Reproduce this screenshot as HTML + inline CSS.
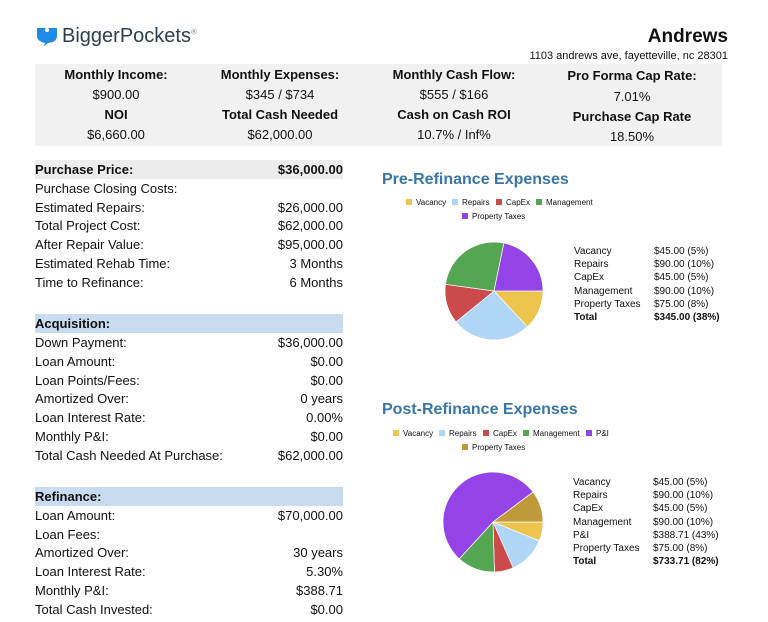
<!DOCTYPE html>
<html><head><meta charset="utf-8"><style>
body{margin:0;width:768px;height:622px;background:#fff;font-family:"Liberation Sans",Arial,sans-serif;color:#111;position:relative;overflow:hidden}
.a{position:absolute;white-space:nowrap}
.hdr{position:absolute;left:35px;top:64px;width:687px;height:82px;background:#f1f1f1}
.c{position:absolute;text-align:center;width:172px;font-size:13px}
.row{position:absolute;left:35px;width:308px;height:19px;font-size:13px;line-height:19px}
.row .v{position:absolute;right:0;top:0}
.lg{font-size:8px;position:absolute;white-space:nowrap}
.sw{display:inline-block;width:6px;height:6px;margin-right:4px;vertical-align:-0px}
.tb{position:absolute;font-size:10px;line-height:13px}
</style></head><body>
<div class="a" style="left:36px;top:24px;font-size:20px;color:#2d3e50">
<svg width="22" height="22" viewBox="0 0 22 22" style="vertical-align:-4px;margin-right:4px"><path d="M1 4 L21 4 L21 12 Q21 18 12 19 L8 22 L9 19 Q1 17 1 12 Z" fill="#1e8be8"/><circle cx="11" cy="6" r="2" fill="#fff"/></svg>BiggerPockets<sup style="font-size:8px;color:#888">®</sup></div>
<div class="a" style="right:40px;top:26px;font-size:19px;font-weight:bold">Andrews</div>
<div class="a" style="right:40px;top:50px;font-size:11px">1103 andrews ave, fayetteville, nc 28301</div>
<div class="hdr"></div>
<div class="c" style="left:30px;top:67px;font-weight:bold">Monthly Income:</div>
<div class="c" style="left:30px;top:87px">$900.00</div>
<div class="c" style="left:30px;top:107px;font-weight:bold">NOI</div>
<div class="c" style="left:30px;top:127px">$6,660.00</div>
<div class="c" style="left:194px;top:67px;font-weight:bold">Monthly Expenses:</div>
<div class="c" style="left:194px;top:87px">$345 / $734</div>
<div class="c" style="left:194px;top:107px;font-weight:bold">Total Cash Needed</div>
<div class="c" style="left:194px;top:127px">$62,000.00</div>
<div class="c" style="left:368px;top:67px;font-weight:bold">Monthly Cash Flow:</div>
<div class="c" style="left:368px;top:87px">$555 / $166</div>
<div class="c" style="left:368px;top:107px;font-weight:bold">Cash on Cash ROI</div>
<div class="c" style="left:368px;top:127px">10.7% / Inf%</div>
<div class="c" style="left:546px;top:68px;font-weight:bold">Pro Forma Cap Rate:</div>
<div class="c" style="left:546px;top:89px">7.01%</div>
<div class="c" style="left:546px;top:109px;font-weight:bold">Purchase Cap Rate</div>
<div class="c" style="left:546px;top:129px">18.50%</div>

<div id="left"></div>

<div class="a" style="left:382px;top:171px;font-size:16px;font-weight:bold;color:#3a76a8">Pre-Refinance Expenses</div>
<div class="a" style="left:382px;top:401px;font-size:16px;font-weight:bold;color:#3a76a8">Post-Refinance Expenses</div>
<svg id="pies" width="768" height="622" style="position:absolute;left:0;top:0"></svg>
<div id="extra"></div>
<script>
const leftRows=[
["Purchase Price:","$36,000.00","g"],["Purchase Closing Costs:",""],["Estimated Repairs:","$26,000.00"],["Total Project Cost:","$62,000.00"],["After Repair Value:","$95,000.00"],["Estimated Rehab Time:","3 Months"],["Time to Refinance:","6 Months"],
null,["Acquisition:","","b"],["Down Payment:","$36,000.00"],["Loan Amount:","$0.00"],["Loan Points/Fees:","$0.00"],["Amortized Over:","0 years"],["Loan Interest Rate:","0.00%"],["Monthly P&I:","$0.00"],["Total Cash Needed At Purchase:","$62,000.00"],
null,["Refinance:","","b"],["Loan Amount:","$70,000.00"],["Loan Fees:",""],["Amortized Over:","30 years"],["Loan Interest Rate:","5.30%"],["Monthly P&I:","$388.71"],["Total Cash Invested:","$0.00"]];
const L=document.getElementById('left');
let y=160;
leftRows.forEach((r,i)=>{
 if(!r){y+=22.5;return;}
 const d=document.createElement('div');d.className='row';d.style.top=y+'px';
 
 
 if(r[2]){d.style.fontWeight='bold';d.style.background=r[2]=='g'?'#ececec':'#c9dbee';}
 d.innerHTML='<span>'+r[0].replace('&','&amp;')+'</span><span class="v">'+r[1]+'</span>';
 L.appendChild(d);y+=18.8;
});
const preLabels=["Vacancy","Repairs","CapEx","Management","Property Taxes"];
const preValues=[45,90,45,90,75];
const preText=["$45.00 (5%)","$90.00 (10%)","$45.00 (5%)","$90.00 (10%)","$75.00 (8%)"];
const postLabels=["Vacancy","Repairs","CapEx","Management","P&I","Property Taxes"];
const postValues=[45,90,45,90,388.71,75];
const postText=["$45.00 (5%)","$90.00 (10%)","$45.00 (5%)","$90.00 (10%)","$388.71 (43%)","$75.00 (8%)"];
const preColors=["#ecc44e","#b0d6f6","#cb4a4c","#55a653","#9443e6"];
const postColors=["#ecc44e","#b0d6f6","#cb4a4c","#55a653","#9443e6","#bf9a3a"];
const S=document.getElementById('pies'),E=document.getElementById('extra');
function pie(vals,cols,cx,cy,r){
 const t=vals.reduce((a,b)=>a+b,0);let a=0;
 vals.forEach((v,i)=>{const a2=a+v/t*2*Math.PI;
  const p=document.createElementNS('http://www.w3.org/2000/svg','path');
  const x1=cx+r*Math.cos(a),y1=cy+r*Math.sin(a),x2=cx+r*Math.cos(a2),y2=cy+r*Math.sin(a2);
  p.setAttribute('d',`M${cx},${cy}L${x1},${y1}A${r},${r} 0 ${a2-a>Math.PI?1:0} 1 ${x2},${y2}Z`);
  p.setAttribute('fill',cols[i]);p.setAttribute('stroke','#fff');p.setAttribute('stroke-width','0.7');
  
  
  S.appendChild(p);a=a2;});
}
function legend(labels,cols,x,y,x2,y2,wrapAt){
 labels.forEach((l,i)=>{const d=document.createElement('div');d.className='lg';
  
  
  d.innerHTML='<span class="sw" style="background:'+cols[i]+'"></span>'+l.replace('&','&amp;');
  if(i<wrapAt){d.style.left=x+'px';d.style.top=y+'px';E.appendChild(d);x+=d.offsetWidth+6;}
  else{d.style.left=x2+'px';d.style.top=y2+'px';E.appendChild(d);}
 });
}
function table(labels,texts,total,x,y){
 labels.forEach((l,i)=>{
  const a=document.createElement('div');a.className='tb';a.style.left=x+'px';a.style.top=(y+i*13.2)+'px';a.textContent=l;
  
  E.appendChild(a);
  const b=document.createElement('div');b.className='tb';b.style.left=(x+80)+'px';b.style.top=(y+i*13.2)+'px';b.textContent=texts[i];
  
  E.appendChild(b);
 });
 const n=labels.length;
 const a=document.createElement('div');a.className='tb';a.style.cssText+=';font-weight:bold;left:'+x+'px;top:'+(y+n*13.2)+'px';a.textContent='Total';
 
 E.appendChild(a);
 const b=document.createElement('div');b.className='tb';b.style.cssText+=';font-weight:bold;left:'+(x+80)+'px;top:'+(y+n*13.2)+'px';b.textContent=total;
 
 E.appendChild(b);
}
pie(preValues,preColors,494,291,49);
pie(postValues,postColors,493,522,50);
legend(preLabels,preColors,406,198,462,212,4);
legend(postLabels,postColors,393,429,462,443,5);
table(preLabels,preText,"$345.00 (38%)",574,245);
table(postLabels,postText,"$733.71 (82%)",573,476);
</script>
</body></html>
